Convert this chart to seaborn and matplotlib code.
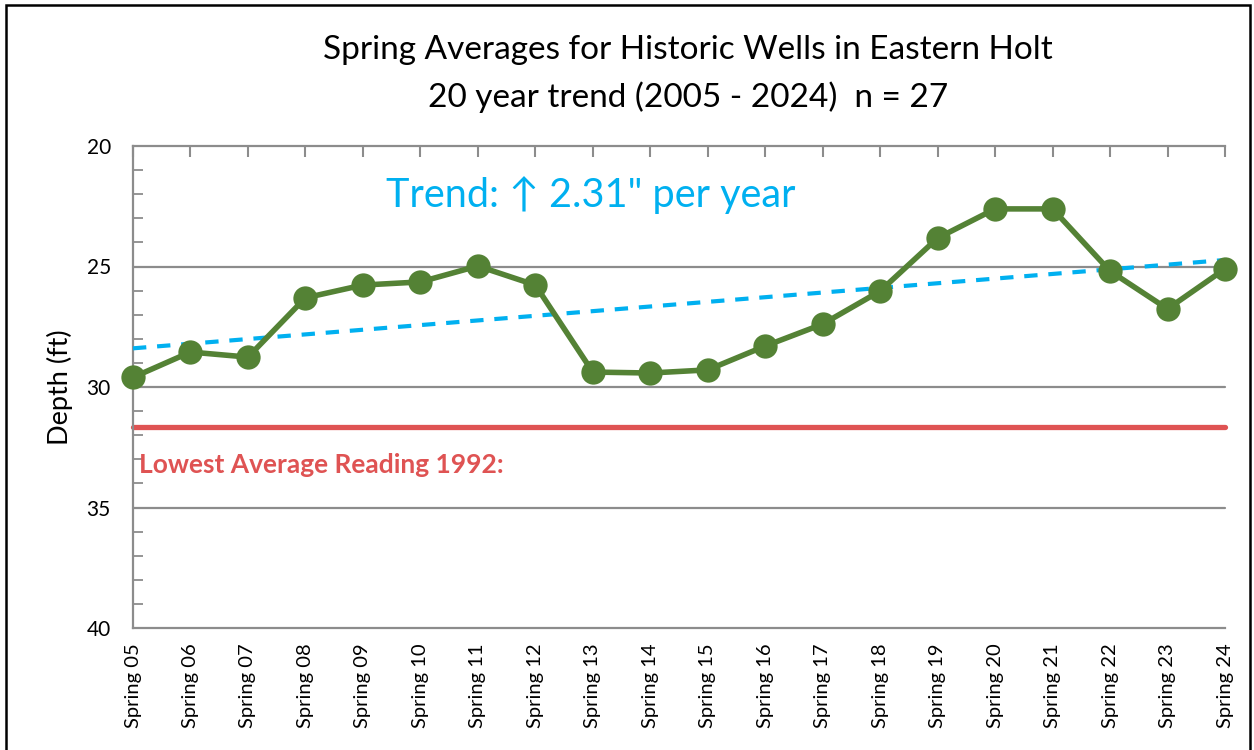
import numpy as np
import pandas as pd
import matplotlib
matplotlib.use("Agg")
import matplotlib.pyplot as plt
from matplotlib.patches import Rectangle
import seaborn as sns

# ---- data ----
seasons = ["Spring 05", "Spring 06", "Spring 07", "Spring 08", "Spring 09",
           "Spring 10", "Spring 11", "Spring 12", "Spring 13", "Spring 14",
           "Spring 15", "Spring 16", "Spring 17", "Spring 18", "Spring 19",
           "Spring 20", "Spring 21", "Spring 22", "Spring 23", "Spring 24"]
depth_ft = [29.60, 28.55, 28.76, 26.30, 25.77, 25.64, 24.98, 25.77, 29.38, 29.42,
            29.29, 28.30, 27.39, 26.02, 23.82, 22.61, 22.61, 25.19, 26.76, 25.10]
lowest_1992 = 31.65
title_lines = ["Spring Averages for Historic Wells in Eastern Holt",
               "20 year trend (2005 - 2024)  n = 27"]
trend_label = "Trend: \u2191 2.31\" per year"
lowest_label = "Lowest Average Reading 1992:"
y_ticks = [20, 25, 30, 35, 40]

sns.set_theme(style="white")
plt.rcParams["font.family"] = ["Lato", "DejaVu Sans"]

W, H = 1254, 750
AX_L, AX_R, AX_T, AX_B = 133, 1225, 146, 628
fig = plt.figure(figsize=(W / 100, H / 100), dpi=100)
ax = fig.add_axes([AX_L / W, 1 - AX_B / H, (AX_R - AX_L) / W, (AX_B - AX_T) / H])

df = pd.DataFrame({"idx": np.arange(len(seasons)), "season": seasons, "depth": depth_ft})

# trend line (linear fit of the data)
coef = np.polyfit(df["idx"], df["depth"], 1)
df["trend"] = np.polyval(coef, df["idx"])

GREEN = "#548235"
BLUE = "#00B0F0"
RED = "#DF5353"
GRID = "#8C8C8C"

# gridlines
for yv in [25, 30, 35]:
    ax.axhline(yv, color=GRID, lw=1.6, zorder=1)

ax.axhline(lowest_1992, color=RED, lw=3.8, zorder=2, solid_capstyle="round")

sns.lineplot(data=df, x="idx", y="trend", ax=ax, color=BLUE, lw=3.0,
             linestyle=(0, (3.2, 2.6)), zorder=3)
sns.lineplot(data=df, x="idx", y="depth", ax=ax, color=GREEN, lw=4.0,
             marker="o", markersize=17.5, markeredgewidth=0, zorder=4,
             clip_on=False)
for ln in ax.lines:
    ln.set_clip_on(False)

ax.set_xlim(0, len(seasons) - 1)
ax.set_ylim(40, 20)

ax.set_xticks(df["idx"])
ax.set_xticklabels(seasons, rotation=90, fontsize=14.5, color="black")
ax.set_yticks(y_ticks)
ax.set_yticklabels([str(v) for v in y_ticks], fontsize=15, color="black")
ax.set_yticks(np.arange(20, 41, 1), minor=True)

ax.tick_params(axis="x", which="both", bottom=False, top=True, labelbottom=True,
               labeltop=False, direction="in", length=8, width=1.5, color=GRID, pad=11)
ax.tick_params(axis="y", which="both", left=True, right=False, direction="in",
               length=7, width=1.3, color=GRID, pad=16)

for side in ["left", "top", "bottom"]:
    ax.spines[side].set_visible(True)
    ax.spines[side].set_color(GRID)
    ax.spines[side].set_linewidth(1.6)
ax.spines["right"].set_visible(False)

ax.set_xlabel("")
ax.set_ylabel("Depth (ft)", fontsize=19.5, color="black")
ax.yaxis.set_label_coords((73 - AX_L) / (AX_R - AX_L), 0.5)

ax.text(4.4, 22.05, trend_label, color=BLUE, fontsize=28.5, va="center", ha="left",
        family=["Lato", "DejaVu Sans"])
ax.text(0.1, 33.25, lowest_label, color=RED, fontsize=19, fontweight="bold",
        va="center", ha="left")

fig.text(688 / W, 1 - 50 / H, title_lines[0], fontsize=24, ha="center", va="center",
         color="black")
fig.text(688 / W, 1 - 97 / H, title_lines[1], fontsize=24, ha="center", va="center",
         color="black")

fig.patches.append(Rectangle((6 / W, -0.05), (1250 - 6) / W, 1 - 5 / H + 0.05,
                             transform=fig.transFigure, fill=False, edgecolor="black",
                             lw=1.8, zorder=10))

fig.savefig("out.png", dpi=100, facecolor="white")
